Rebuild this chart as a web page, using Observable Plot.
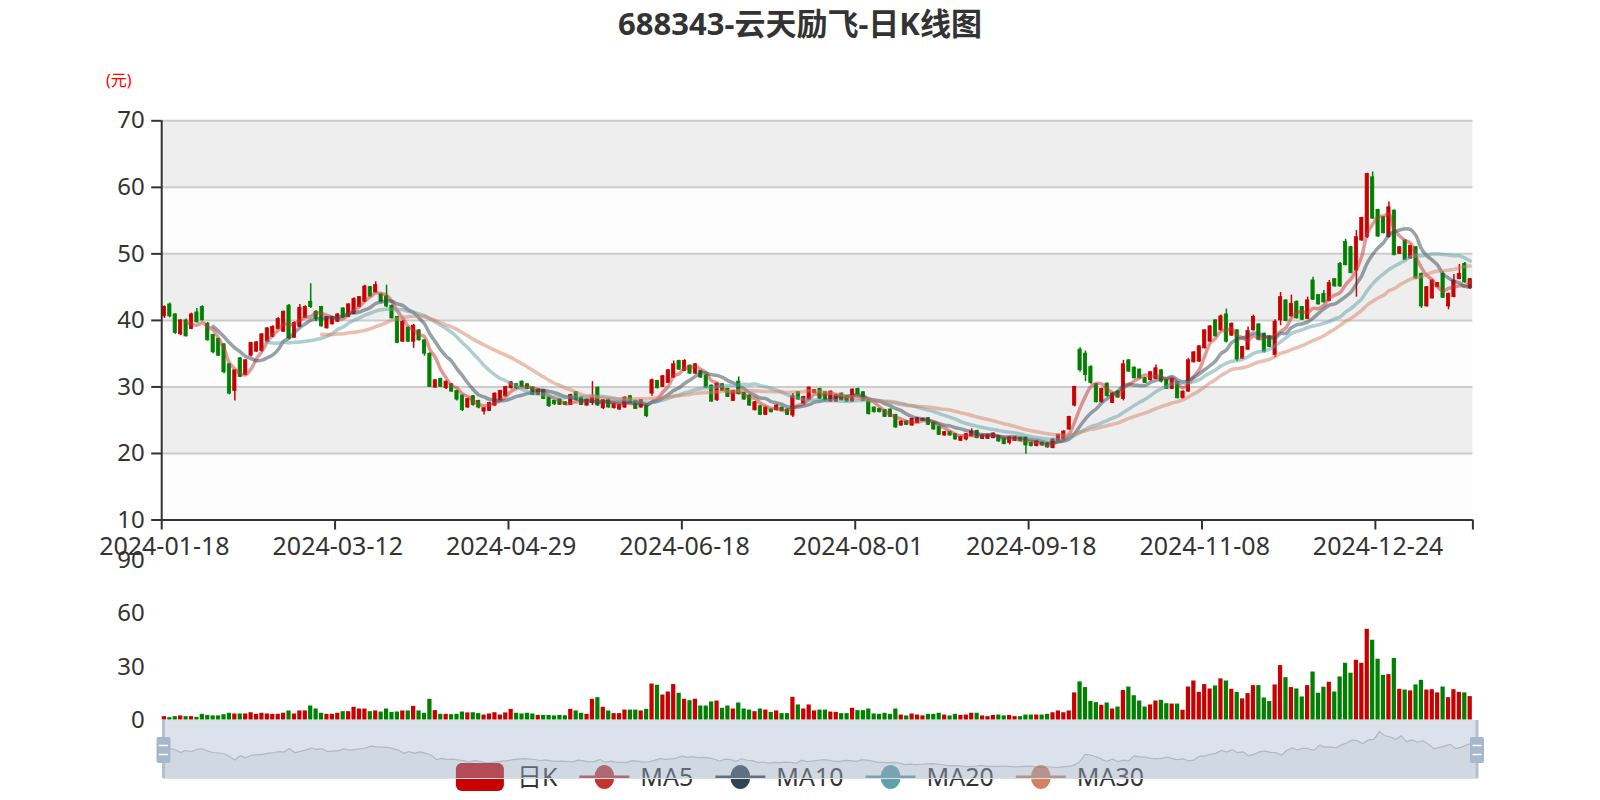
<!DOCTYPE html>
<html><head><meta charset="utf-8">
<script src="https://cdn.jsdelivr.net/npm/d3@7"></script>
<script src="https://cdn.jsdelivr.net/npm/@observablehq/plot@0.6"></script>
<style>
body{margin:0;background:#fff;}
#root{position:relative;width:1600px;height:800px;overflow:hidden;font-family:"Noto Sans","Noto Sans CJK SC",sans-serif;}
#root > *{position:absolute;left:0;}
</style></head><body><div id="root"></div>
<script>
const dates = ["2024-01-18","2024-01-19","2024-01-22","2024-01-23","2024-01-24","2024-01-25","2024-01-26","2024-01-29","2024-01-30","2024-01-31",
"2024-02-01","2024-02-02","2024-02-05","2024-02-06","2024-02-07","2024-02-08","2024-02-19","2024-02-20","2024-02-21","2024-02-22",
"2024-02-23","2024-02-26","2024-02-27","2024-02-28","2024-02-29","2024-03-01","2024-03-04","2024-03-05","2024-03-06","2024-03-07",
"2024-03-08","2024-03-11","2024-03-12","2024-03-13","2024-03-14","2024-03-15","2024-03-18","2024-03-19","2024-03-20","2024-03-21",
"2024-03-22","2024-03-25","2024-03-26","2024-03-27","2024-03-28","2024-03-29","2024-04-01","2024-04-02","2024-04-03","2024-04-08",
"2024-04-09","2024-04-10","2024-04-11","2024-04-12","2024-04-15","2024-04-16","2024-04-17","2024-04-18","2024-04-19","2024-04-22",
"2024-04-23","2024-04-24","2024-04-25","2024-04-26","2024-04-29","2024-04-30","2024-05-06","2024-05-07","2024-05-08","2024-05-09",
"2024-05-10","2024-05-13","2024-05-14","2024-05-15","2024-05-16","2024-05-17","2024-05-20","2024-05-21","2024-05-22","2024-05-23",
"2024-05-24","2024-05-27","2024-05-28","2024-05-29","2024-05-30","2024-05-31","2024-06-03","2024-06-04","2024-06-05","2024-06-06",
"2024-06-07","2024-06-11","2024-06-12","2024-06-13","2024-06-14","2024-06-17","2024-06-18","2024-06-19","2024-06-20","2024-06-21",
"2024-06-24","2024-06-25","2024-06-26","2024-06-27","2024-06-28","2024-07-01","2024-07-02","2024-07-03","2024-07-04","2024-07-05",
"2024-07-08","2024-07-09","2024-07-10","2024-07-11","2024-07-12","2024-07-15","2024-07-16","2024-07-17","2024-07-18","2024-07-19",
"2024-07-22","2024-07-23","2024-07-24","2024-07-25","2024-07-26","2024-07-29","2024-07-30","2024-07-31","2024-08-01","2024-08-02",
"2024-08-05","2024-08-06","2024-08-07","2024-08-08","2024-08-09","2024-08-12","2024-08-13","2024-08-14","2024-08-15","2024-08-16",
"2024-08-19","2024-08-20","2024-08-21","2024-08-22","2024-08-23","2024-08-26","2024-08-27","2024-08-28","2024-08-29","2024-08-30",
"2024-09-02","2024-09-03","2024-09-04","2024-09-05","2024-09-06","2024-09-09","2024-09-10","2024-09-11","2024-09-12","2024-09-13",
"2024-09-18","2024-09-19","2024-09-20","2024-09-23","2024-09-24","2024-09-25","2024-09-26","2024-09-27","2024-09-30","2024-10-08",
"2024-10-09","2024-10-10","2024-10-11","2024-10-14","2024-10-15","2024-10-16","2024-10-17","2024-10-18","2024-10-21","2024-10-22",
"2024-10-23","2024-10-24","2024-10-25","2024-10-28","2024-10-29","2024-10-30","2024-10-31","2024-11-01","2024-11-04","2024-11-05",
"2024-11-06","2024-11-07","2024-11-08","2024-11-11","2024-11-12","2024-11-13","2024-11-14","2024-11-15","2024-11-18","2024-11-19",
"2024-11-20","2024-11-21","2024-11-22","2024-11-25","2024-11-26","2024-11-27","2024-11-28","2024-11-29","2024-12-02","2024-12-03",
"2024-12-04","2024-12-05","2024-12-06","2024-12-09","2024-12-10","2024-12-11","2024-12-12","2024-12-13","2024-12-16","2024-12-17",
"2024-12-18","2024-12-19","2024-12-20","2024-12-23","2024-12-24","2024-12-25","2024-12-26","2024-12-27","2024-12-30","2024-12-31",
"2025-01-02","2025-01-03","2025-01-06","2025-01-07","2025-01-08","2025-01-09","2025-01-10","2025-01-13","2025-01-14","2025-01-15",
"2025-01-16","2025-01-17"];

const open = [40.6,42.4,40.9,37.9,40.0,38.7,41.2,42.0,39.5,37.8,
37.2,36.4,33.4,29.4,34.3,31.8,34.7,35.3,35.4,36.8,
37.5,38.7,38.3,42.2,37.4,39.0,40.4,42.8,41.3,42.0,
38.8,39.4,39.8,41.8,40.5,41.0,42.0,42.8,45.0,44.2,
43.9,43.6,42.2,40.5,36.8,38.9,36.8,38.5,37.0,35.0,
29.9,31.2,29.8,30.4,29.4,28.7,26.9,28.6,27.9,26.3,
26.4,27.2,28.0,28.6,29.8,30.4,30.8,30.4,29.9,28.8,
29.5,28.4,27.9,28.1,27.7,27.3,29.2,28.4,27.2,27.6,
29.9,26.8,28.1,26.8,26.6,26.9,28.6,27.9,26.9,27.4,
29.0,30.9,30.0,30.6,31.4,33.9,32.4,33.2,32.0,32.4,
31.7,30.2,28.0,30.4,29.7,27.9,30.8,29.1,28.7,26.5,
27.1,25.8,26.6,26.5,26.9,26.6,25.7,29.2,27.5,28.1,
29.1,29.7,29.2,27.8,27.8,29.0,28.6,27.8,29.7,29.2,
28.0,26.9,26.7,26.5,26.6,25.8,24.2,24.8,24.2,24.6,
24.9,25.3,24.6,24.0,22.7,23.2,22.9,21.9,22.1,22.6,
23.4,22.2,22.2,22.3,22.6,22.2,21.6,21.9,22.3,22.4,
21.6,21.1,21.6,21.5,20.8,21.9,22.1,23.6,27.2,35.6,
35.0,33.0,30.4,27.7,30.5,27.6,29.3,28.2,34.0,32.9,
32.6,31.3,31.0,31.2,32.5,31.0,29.7,30.7,28.3,29.3,
33.7,33.8,35.8,36.8,40.0,38.5,40.9,37.7,38.5,34.2,
35.6,38.5,39.4,38.0,37.6,34.8,40.0,43.0,40.6,42.8,
42.0,40.2,46.0,43.8,44.0,42.9,46.2,48.5,51.8,51.0,
47.5,52.0,52.5,61.5,56.6,55.5,52.5,56.5,50.0,52.0,
49.3,51.0,47.0,42.1,43.3,45.0,47.0,42.1,43.5,46.2,
48.5,44.8];

const close = [42.0,40.6,38.1,40.0,37.6,40.9,39.7,40.0,37.0,35.2,
34.7,32.2,29.0,32.5,31.5,34.0,36.6,36.7,37.9,38.8,
39.0,40.2,41.3,37.3,39.6,41.9,42.0,42.0,40.2,39.1,
40.5,40.5,40.9,40.4,42.4,43.2,43.5,45.1,43.6,45.3,
42.8,42.1,40.3,36.6,39.8,36.8,39.2,37.0,35.0,30.0,
31.0,30.0,30.8,29.3,28.1,26.5,28.2,27.3,26.9,26.8,
27.6,29.0,29.4,30.0,30.7,29.8,30.0,29.7,28.8,29.6,
28.2,27.1,27.4,27.3,27.3,28.8,28.1,27.3,28.1,28.4,
27.2,28.0,26.9,27.4,27.3,28.4,27.6,26.7,28.0,25.6,
31.0,29.8,31.6,32.5,33.4,32.6,33.9,32.0,33.4,31.4,
29.9,27.8,30.5,29.4,28.5,29.4,28.9,28.1,27.2,27.7,
25.8,26.9,26.2,27.2,26.4,25.8,28.6,28.1,28.5,29.9,
29.5,28.2,28.0,29.3,28.8,28.0,27.8,29.6,28.9,27.9,
25.9,26.2,26.2,25.5,25.5,23.9,24.8,24.3,25.2,25.3,
25.2,24.3,23.6,22.8,23.2,22.7,22.1,22.5,22.9,23.3,
22.3,22.7,22.8,23.0,21.8,21.4,22.4,22.4,21.9,21.2,
21.1,21.8,21.2,20.9,22.1,22.8,23.3,25.5,30.0,32.5,
31.8,30.6,27.7,29.7,28.6,29.0,28.4,33.4,32.3,31.3,
31.3,30.6,32.2,32.8,30.8,29.7,31.2,28.3,29.3,34.0,
35.2,36.1,38.5,39.1,37.6,40.6,36.8,39.5,34.1,36.0,
38.4,40.5,37.1,35.3,36.0,39.8,43.5,39.9,42.5,40.3,
40.1,43.0,43.1,42.4,42.7,45.6,45.1,45.1,48.3,47.1,
52.5,55.4,62.0,55.3,52.6,53.1,57.0,49.8,51.0,49.1,
51.2,46.3,42.1,45.0,46.0,45.6,43.4,44.0,46.0,47.0,
45.7,46.2];

const low = [40.3,40.4,37.9,37.7,37.5,38.6,39.6,39.9,36.9,35.0,
34.6,32.0,28.8,27.9,31.4,31.7,34.5,35.2,35.2,36.7,
37.4,38.6,38.2,37.1,37.3,38.9,40.3,41.8,39.8,39.0,
38.7,39.3,39.7,40.3,40.4,40.9,41.9,42.7,43.5,44.1,
42.6,41.9,40.2,36.5,36.7,36.7,35.8,36.9,34.6,29.9,
29.8,29.9,29.6,29.2,27.9,26.3,26.8,27.1,26.7,25.8,
26.3,27.1,27.9,28.5,29.7,29.6,29.9,29.6,28.7,28.7,
28.1,26.9,27.2,27.2,27.2,27.2,28.0,27.2,27.1,27.2,
27.1,26.6,26.8,26.7,26.5,26.8,27.5,26.6,26.8,25.4,
28.6,29.7,29.9,30.5,31.3,32.5,32.3,31.9,31.9,31.3,
29.8,27.7,27.8,29.3,28.4,27.8,28.8,28.0,27.1,26.4,
25.7,25.7,26.1,26.4,26.3,25.7,25.4,28.0,27.4,28.0,
29.0,28.1,27.9,27.7,27.7,27.9,27.7,27.7,28.8,27.8,
25.8,26.1,26.1,25.4,25.4,23.8,24.1,24.2,24.1,24.5,
24.8,24.2,23.5,22.7,22.6,22.6,22.0,21.8,21.9,22.5,
22.2,22.1,22.1,22.2,21.7,21.3,21.3,21.8,21.8,19.9,
21.0,21.0,21.1,20.8,20.7,21.8,22.0,23.5,27.0,32.2,
30.8,30.4,27.6,27.6,28.5,27.5,28.3,27.9,32.2,31.2,
31.2,30.5,30.9,31.1,30.6,29.6,29.6,28.2,28.2,29.2,
33.6,33.7,35.7,36.7,37.5,38.4,36.6,37.6,33.8,34.1,
35.5,38.4,37.0,35.1,35.9,34.4,39.2,39.8,40.5,40.2,
40.0,40.1,43.0,42.3,42.6,42.8,45.0,45.0,48.2,47.0,
43.5,51.9,52.3,55.2,52.5,53.0,52.4,49.7,49.9,49.0,
49.2,46.2,41.8,42.0,43.2,44.9,43.3,41.6,43.4,46.1,
45.6,44.7];

const high = [42.2,42.6,41.0,40.1,40.2,41.1,41.8,42.2,39.7,37.9,
37.3,36.5,33.5,32.6,34.4,34.1,36.7,36.8,38.0,38.9,
39.2,40.4,41.4,42.4,39.8,42.4,42.2,45.5,41.5,42.1,
40.6,40.6,41.0,41.9,42.5,43.4,43.6,45.3,45.1,45.8,
44.0,45.3,42.3,40.6,40.0,39.0,39.4,38.6,37.1,35.1,
31.1,31.3,30.9,30.5,29.5,28.8,28.3,28.7,28.0,26.9,
27.7,29.1,29.5,30.1,30.8,30.5,30.9,30.5,30.0,29.7,
29.6,28.5,28.0,28.2,27.8,28.9,29.3,28.5,28.2,30.8,
30.0,28.1,28.2,27.5,27.4,28.5,28.7,28.0,28.1,27.5,
31.2,31.0,31.7,32.6,33.9,34.0,34.1,33.3,33.5,32.5,
31.8,30.3,30.6,30.5,29.8,29.5,31.5,29.2,28.8,27.8,
27.2,27.0,26.7,27.3,27.0,26.7,29.0,29.3,28.6,30.0,
29.6,29.8,29.3,29.4,28.9,29.1,28.7,29.7,29.8,29.3,
28.1,27.0,26.8,26.6,26.7,25.9,24.9,24.9,25.3,25.4,
25.3,25.4,24.7,24.1,23.3,23.3,23.0,22.6,23.0,23.7,
23.5,22.8,22.9,23.1,22.7,22.3,22.5,22.5,22.4,22.5,
21.7,21.9,21.7,21.6,22.2,22.9,23.4,25.6,30.1,35.9,
35.4,33.2,30.5,29.8,30.6,29.1,29.4,34.0,34.1,33.0,
32.7,31.4,32.3,33.3,32.6,31.1,31.3,30.8,29.4,34.3,
35.3,36.2,38.6,39.2,40.1,40.8,41.7,39.6,38.6,36.1,
39.0,40.8,39.5,38.1,37.7,40.1,44.2,43.1,43.8,42.9,
42.1,43.5,46.5,43.9,44.5,46.0,46.3,48.7,52.2,51.1,
53.5,55.5,62.1,62.3,56.7,55.6,57.8,56.6,51.1,52.1,
51.3,51.1,47.1,45.1,46.1,45.7,47.3,44.1,46.9,48.4,
48.7,46.3];

const volume = [1.9,1.3,1.9,2.3,1.9,1.9,1.5,3.2,2.6,2.3,
2.3,3.0,3.8,3.4,3.4,3.4,4.1,3.2,3.8,3.4,
3.2,3.2,3.8,5.1,3.4,5.1,5.1,7.9,6.2,3.8,
3.2,3.2,3.8,4.7,4.7,7.2,6.2,6.2,4.7,5.1,
4.5,6.2,4.3,4.5,5.1,5.1,7.7,5.1,3.8,11.7,
5.3,3.2,3.2,3.0,3.2,4.5,4.0,4.1,3.6,2.8,
3.4,4.1,2.8,4.0,6.0,3.8,3.4,3.8,3.4,2.6,
2.6,2.6,2.3,2.6,2.4,6.0,5.1,3.8,3.2,11.7,
12.6,7.2,5.1,3.6,3.6,5.6,5.6,5.6,5.1,6.0,
20.3,19.6,14.1,15.8,20.0,15.1,11.7,10.9,11.7,7.9,
7.9,10.2,10.7,6.6,7.9,6.2,9.6,6.2,5.6,4.7,
6.2,5.6,4.3,5.1,3.6,3.6,12.8,8.5,6.2,8.5,
5.1,5.6,5.6,4.5,4.3,3.6,3.6,6.6,5.3,5.3,
6.2,3.4,3.2,3.8,3.2,6.2,2.8,2.3,3.4,2.8,
2.3,3.2,3.2,3.8,2.8,2.3,3.2,2.6,2.8,3.8,
3.8,2.3,1.9,2.6,2.8,2.3,2.6,1.9,1.9,2.8,
2.8,2.8,2.8,3.2,4.1,5.1,4.1,5.1,15.3,21.5,
18.3,10.5,9.8,8.3,9.6,6.2,7.3,16.6,18.6,13.7,
10.7,7.3,8.5,10.7,11.1,9.2,9.0,9.0,5.5,18.6,
22.0,15.6,20.0,17.5,19.2,23.2,22.0,17.3,15.6,11.9,
14.9,19.4,19.4,12.4,10.4,19.8,30.7,23.9,18.3,17.5,
13.0,19.4,27.1,15.1,18.5,21.3,15.8,24.3,32.0,26.4,
33.7,32.0,51.2,45.0,34.3,25.2,25.6,34.7,17.3,16.9,
16.4,19.8,22.4,16.9,17.1,15.3,18.6,12.6,17.1,15.6,
15.3,13.2];

const xLabelDates = ["2024-01-18","2024-03-12","2024-04-29","2024-06-18","2024-08-01","2024-09-18","2024-11-08","2024-12-24"];
const priceTicks = [10,20,30,40,50,60,70];
const volumeTicks = [0,30,60,90];
const maPeriods = [5,10,20,30];
const maColors = ["#c23531","#2f4554","#61a0a8","#d48265"];
const seriesNames = ["日K","MA5","MA10","MA20","MA30"];
const titleText = "688343-云天励飞-日K线图";
const unitText = "(元)";

const UP = "#c80000", DOWN = "#008000";
const FONT = '"Noto Sans","Noto Sans CJK SC",sans-serif';
const N = dates.length;
const rows = dates.map((d, i) => ({i, date: d, open: open[i], close: close[i], low: low[i], high: high[i], vol: volume[i], col: close[i] >= open[i] ? UP : DOWN}));
function movingAverage(n) {
  const out = [];
  for (let i = n - 1; i < N; i++) {
    let s = 0;
    for (let k = i - n + 1; k <= i; k++) s += close[k];
    out.push({i, v: s / n});
  }
  return out;
}
const labelIdx = xLabelDates.map(d => dates.indexOf(d));
const tickIdx = labelIdx.concat([N]);
const bands = [];
for (let k = 0; k < priceTicks.length - 1; k++) bands.push({lo: priceTicks[k], hi: priceTicks[k + 1], fill: k % 2 === 0 ? "#fdfdfd" : "#eeeeee"});

const root = document.getElementById("root");

// title
const title = document.createElement("div");
title.textContent = titleText;
Object.assign(title.style, {top: "3px", width: "1600px", textAlign: "center", font: `bold 31px ${FONT}`, color: "#333", lineHeight: "40px"});
root.appendChild(title);
const unit = document.createElement("div");
unit.textContent = unitText;
Object.assign(unit.style, {top: "70px", left: "106px", font: `16px ${FONT}`, color: "#ff0000", lineHeight: "20px"});
root.appendChild(unit);

// main candlestick chart
const main = Plot.plot({
  width: 1600, height: 560,
  marginLeft: 161.2, marginRight: 127.6, marginTop: 120.3, marginBottom: 40.5,
  style: {background: "transparent", overflow: "visible", fontFamily: FONT, fontSize: "24px", color: "#333"},
  x: {domain: [0, N]},
  y: {domain: [10, 70]},
  color: {type: "identity"},
  marks: [
    Plot.rect(bands, {x1: () => 0, x2: () => N, y1: "lo", y2: "hi", fill: "fill"}),
    Plot.ruleY(priceTicks.slice(1), {stroke: "#cccccc", strokeWidth: 2}),
    Plot.ruleX(rows, {x: d => d.i + 0.5, y1: "low", y2: "high", stroke: "col", strokeWidth: 1.5}),
    Plot.rect(rows, {x1: d => d.i + 0.2, x2: d => d.i + 0.8, y1: "open", y2: "close", fill: "col", stroke: "col", strokeWidth: 0.8}),
    ...maPeriods.map((n, k) => Plot.line(movingAverage(n), {x: d => d.i + 0.5, y: "v", stroke: maColors[k], strokeWidth: 3.5, strokeOpacity: 0.5, curve: "catmull-rom"})),
    Plot.ruleY([10], {stroke: "#333", strokeWidth: 2}),
    Plot.ruleX([0], {stroke: "#333", strokeWidth: 2}),
    Plot.axisY(priceTicks, {tickSize: 10, tickPadding: 7, fontSize: 24, color: "#333", strokeWidth: 2, label: null}),
    Plot.axisX(tickIdx, {tickSize: 10, tickFormat: () => "", color: "#333", strokeWidth: 2, label: null}),
    Plot.axisX(labelIdx.map(i => i + 0.5), {tickSize: 0, tickPadding: 17, tickFormat: v => dates[Math.floor(v)], fontSize: 25, color: "#333", label: null})
  ]
});
main.style.top = "0px";
root.appendChild(main);

// volume chart
const vol = Plot.plot({
  width: 1600, height: 200,
  marginLeft: 161.2, marginRight: 127.6, marginTop: 30, marginBottom: 10.5,
  style: {background: "transparent", overflow: "visible", fontFamily: FONT, fontSize: "24px", color: "#333"},
  x: {domain: [0, N], axis: null},
  y: {domain: [0, 90]},
  color: {type: "identity"},
  marks: [
    Plot.rect(rows, {x1: d => d.i + 0.11, x2: d => d.i + 0.89, y1: () => 0, y2: "vol", fill: "col"}),
    Plot.axisY(volumeTicks, {tickSize: 0, tickPadding: 17, fontSize: 24, color: "#333", label: null})
  ]
});
vol.style.top = "530px";
root.appendChild(vol);

// legend (drawn under the slider, like the reference)
const lg = d3.create("svg").attr("width", 1600).attr("height", 800).style("top", "0px")
  .style("font-family", FONT).style("font-size", "25px");
root.appendChild(lg.node());
const lgG = lg.append("g");
let lx = 0;
seriesNames.forEach((name, k) => {
  const g = lgG.append("g").attr("transform", `translate(${lx},0)`);
  if (k === 0) {
    g.append("rect").attr("x", 0).attr("y", -14).attr("width", 48).attr("height", 28).attr("rx", 6).attr("fill", UP);
  } else {
    const c = maColors[k - 1];
    g.append("line").attr("x1", 0).attr("x2", 50).attr("y1", 0).attr("y2", 0).attr("stroke", c).attr("stroke-width", 3);
    g.append("ellipse").attr("cx", 25).attr("cy", 0).attr("rx", 10).attr("ry", 12).attr("fill", c);
  }
  const t = g.append("text").attr("x", 61).attr("y", 0).attr("dy", "0.35em").attr("fill", "#333").text(name);
  lx += 61 + t.node().getComputedTextLength() + 22;
});
lgG.attr("transform", `translate(${800 - (lx - 22) / 2},777)`);

// data zoom slider
const oExt = d3.extent(open);
const oPad = (oExt[1] - oExt[0]) * 0.3;
const yMin = oExt[0] - oPad;
const slider = Plot.plot({
  width: 1600, height: 80,
  marginLeft: 163.5, marginRight: 123, marginTop: 10, marginBottom: 12,
  style: {background: "transparent", overflow: "visible"},
  x: {domain: [0, N - 1], axis: null},
  y: {domain: [yMin, oExt[1] + oPad], axis: null},
  marks: [
    Plot.areaY(rows, {x: "i", y1: () => yMin, y2: "open", fill: "#2f4554", fillOpacity: 0.09}),
    Plot.lineY(rows, {x: "i", y: "open", stroke: "#2f4554", strokeOpacity: 0.3, strokeWidth: 1.2}),
    Plot.frame({fill: "rgba(167,183,204,0.4)", stroke: "#dddddd"})
  ]
});
slider.style.top = "710px";
root.appendChild(slider);
const sx = slider.scale("x");
const hx = [sx.apply(0), sx.apply(N - 1)];
const sg = d3.select(slider).append("g");
hx.forEach(x => {
  sg.append("rect").attr("x", x - 1.5).attr("y", 10).attr("width", 3).attr("height", 58).attr("fill", "#b4c0d2");
  sg.append("rect").attr("x", x - 7).attr("y", 27).attr("width", 14).attr("height", 26).attr("rx", 2).attr("fill", "#a7b7cc");
  sg.append("line").attr("x1", x - 4.5).attr("x2", x + 4.5).attr("y1", 35.5).attr("y2", 35.5).attr("stroke", "#fff").attr("stroke-width", 1.5);
  sg.append("line").attr("x1", x - 4.5).attr("x2", x + 4.5).attr("y1", 44.5).attr("y2", 44.5).attr("stroke", "#fff").attr("stroke-width", 1.5);
});
</script>
</body></html>
